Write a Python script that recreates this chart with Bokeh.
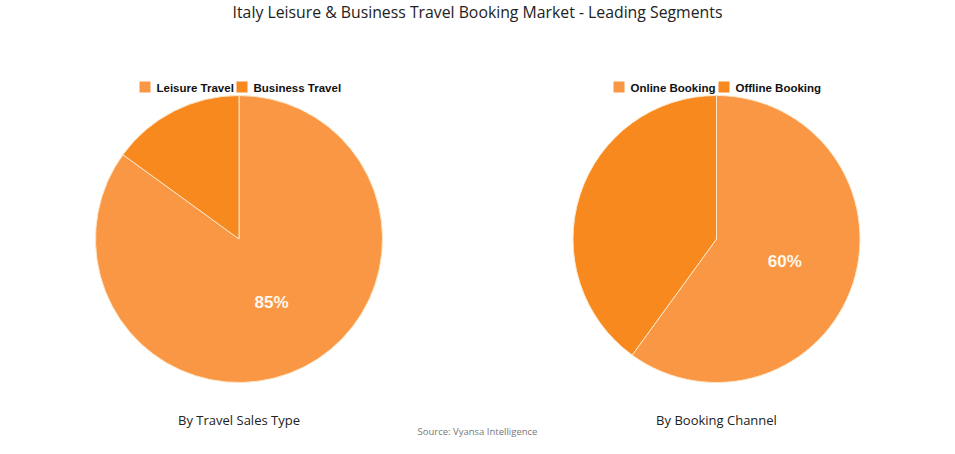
import math
from bokeh.plotting import figure
from bokeh.models import Range1d, ColumnDataSource
from bokeh.core.properties import value
from bokeh.embed import file_html
from bokeh.resources import INLINE

# ---- data ----
title_text = "Italy Leisure & Business Travel Booking Market - Leading Segments"
source_text = "Source: Vyansa Intelligence"

pie1_title = "By Travel Sales Type"
pie1_categories = ["Leisure Travel", "Business Travel"]
pie1_values = [85, 15]

pie2_title = "By Booking Channel"
pie2_categories = ["Online Booking", "Offline Booking"]
pie2_values = [60, 40]

slice_colors = ["#F99744", "#F7891F"]

# ---- layout (pixel-like data space) ----
W, H = 939, 438
p = figure(width=W, height=H, output_backend="svg", toolbar_location=None,
           x_range=Range1d(0, W), y_range=Range1d(0, H), min_border=0,
           background_fill_color="white", border_fill_color="white")
p.axis.visible = False
p.xgrid.visible = False
p.ygrid.visible = False
p.outline_line_color = None

def Y(y):
    # y from top -> data y
    return H - y

FONT = "Liberation Sans"
TFONT = "Open Sans"

p.text(x=[477], y=[Y(11)], text=[title_text], text_font=value(TFONT),
       text_font_size="15.8px", text_color="#222222", text_align="center",
       text_baseline="middle")
p.text(x=[477], y=[Y(431)], text=[source_text], text_font=value(TFONT),
       text_font_size="9.5px", text_color="#777777", text_align="center",
       text_baseline="middle")

def draw_pie(cx, cy, r, cats, vals, subtitle, legend_x):
    total = float(sum(vals))
    starts, ends = [], []
    a = math.pi / 2
    for v in vals:
        starts.append(a)
        a = a - v / total * 2 * math.pi
        ends.append(a)
    src = ColumnDataSource(dict(start=starts, end=ends, color=slice_colors[:len(vals)]))
    p.wedge(x=cx, y=Y(cy), radius=r, start_angle="start", end_angle="end",
            direction="clock", fill_color="color", line_color="#FCE6C8",
            line_width=1, source=src)
    # label in largest slice
    i = vals.index(max(vals))
    mid = (starts[i] + ends[i]) / 2
    lx = cx + 0.5 * r * math.cos(mid)
    ly = Y(cy) + 0.5 * r * math.sin(mid)
    p.text(x=[lx], y=[ly], text=[f"{vals[i]}%"], text_font=value(FONT),
           text_font_style="bold", text_font_size="17px", text_color="#FFF8EE",
           text_align="center", text_baseline="middle")
    # subtitle
    p.text(x=[cx], y=[Y(419)], text=[subtitle], text_font=value(TFONT),
           text_font_size="13px", text_color="#222222", text_align="center",
           text_baseline="middle")
    # legend
    x = legend_x
    for k, c in enumerate(cats):
        p.rect(x=[x[k] + 5.5], y=[Y(86.5)], width=11, height=11,
               fill_color=slice_colors[k], line_color=None)
        p.text(x=[x[k] + 17], y=[Y(87)], text=[c], text_font=value(FONT),
               text_font_style="bold", text_font_size="11.5px", text_color="#111111",
               text_align="left", text_baseline="middle")

draw_pie(238.5, 238.5, 143.5, pie1_categories, pie1_values, pie1_title, [139, 236])
draw_pie(716, 238.5, 143.5, pie2_categories, pie2_values, pie2_title, [613, 718])

open("out.html", "w").write(file_html(p, INLINE))
